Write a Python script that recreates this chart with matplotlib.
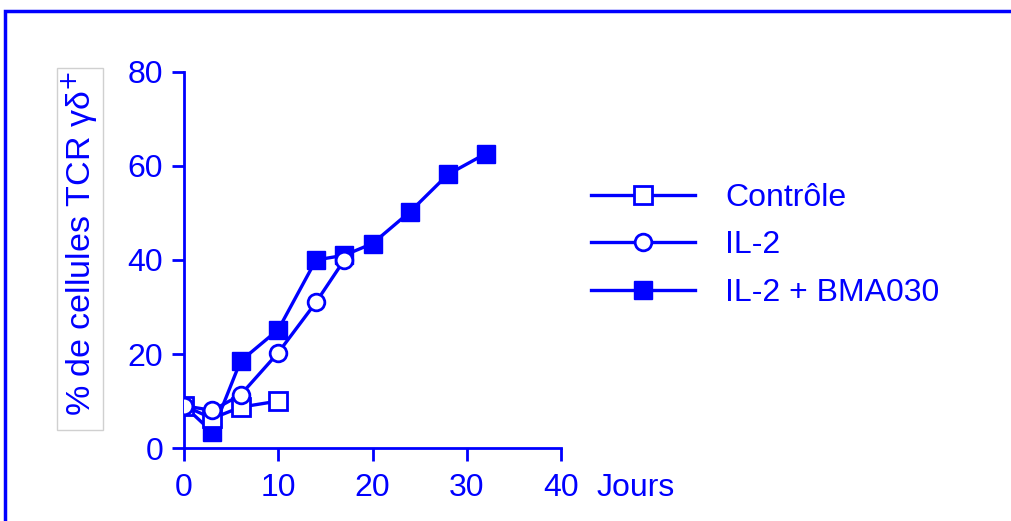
import matplotlib
matplotlib.use("Agg")
import matplotlib.pyplot as plt
from matplotlib.patches import Rectangle

plt.rcParams['font.family'] = ['Liberation Sans', 'DejaVu Sans']

BLUE = '#0000ff'

# jours de culture et % de cellules TCR gamma-delta+
ctrl_x = [0, 3, 6, 10]
ctrl_y = [9, 6.3, 8.7, 10]
il2_x = [0, 3, 6, 10, 14, 17]
il2_y = [9, 8, 11.3, 20.3, 31, 40]
bma_x = [0, 3, 6, 10, 14, 17, 20, 24, 28, 32]
bma_y = [9, 3.4, 18.5, 25.2, 40, 41, 43.5, 50.3, 58.2, 62.6]

series_labels = ['Contrôle', 'IL-2', 'IL-2 + BMA030']
xticks = [0, 10, 20, 30, 40]
yticks = [0, 20, 40, 60, 80]

fig = plt.figure(figsize=(10.11, 5.21), dpi=100)
ax = fig.add_axes([0.182, 0.140, 0.373, 0.722])

lw = 2.4
ax.plot(ctrl_x, ctrl_y, color=BLUE, lw=lw, marker='s', ms=13, mfc='white',
        mec=BLUE, mew=2, label=series_labels[0], zorder=3)
ax.plot(il2_x, il2_y, color=BLUE, lw=lw, marker='o', ms=12, mfc='white',
        mec=BLUE, mew=2, label=series_labels[1], zorder=4)
ax.plot(bma_x, bma_y, color=BLUE, lw=lw, marker='s', ms=13, mfc=BLUE,
        mec=BLUE, mew=1, label=series_labels[2], zorder=2)

ax.set_xlim(0, 40)
ax.set_ylim(0, 80)
ax.set_xticks(xticks)
ax.set_yticks(yticks)
for s in ['top', 'right']:
    ax.spines[s].set_visible(False)
for s in ['left', 'bottom']:
    ax.spines[s].set_color(BLUE)
    ax.spines[s].set_linewidth(2)
ax.tick_params(colors=BLUE, labelcolor=BLUE, labelsize=23, length=9, width=2,
               direction='out')
ax.tick_params(axis='x', pad=9)
ax.tick_params(axis='y', pad=6)
for sp in ax.spines.values():
    sp.set_clip_on(False)

fig.text(597 / 1011, 1 - 488 / 521, 'Jours', color=BLUE, fontsize=23,
         va='center', ha='left')

# titre de l'axe y, cadre gris clair dessiné à part
fig.add_artist(Rectangle((57 / 1011, 1 - 430 / 521), 46 / 1011, 362 / 521,
                         transform=fig.transFigure, fc='white', ec='#d0d0d0', lw=1))
fig.text(80 / 1011, 1 - 244 / 521, '% de cellules TCR γδ$^{+}$', rotation=90,
         color=BLUE, fontsize=24.5, ha='center', va='center')

leg = fig.legend(loc='upper left', bbox_to_anchor=(578 / 1011, 1 - 170 / 521),
                 frameon=False, fontsize=23, handlelength=3.25, handletextpad=0.95,
                 labelspacing=0.55, labelcolor=BLUE, borderaxespad=0)

# cadre bleu autour de la figure
fig.add_artist(Rectangle((5 / 1011, -0.2), 1.2, 1.2 - 11 / 521,
                         transform=fig.transFigure, fill=False, ec=BLUE, lw=2.5))

fig.savefig('out.png', dpi=100)
